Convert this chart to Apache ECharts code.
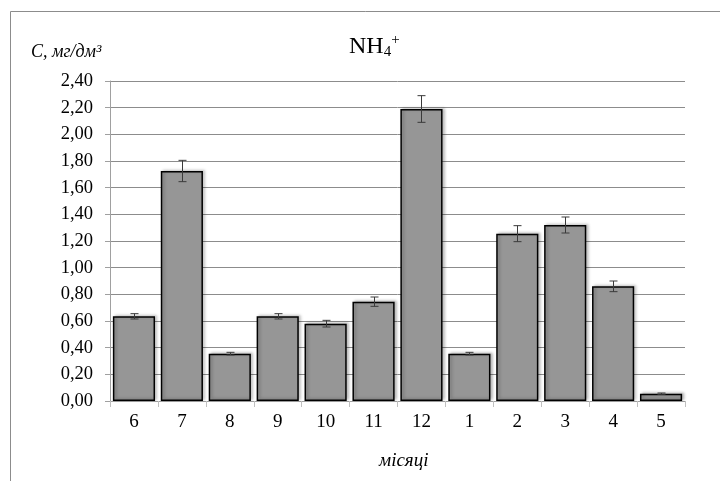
<!DOCTYPE html>
<html>
<head>
<meta charset="utf-8">
<script src="https://cdn.jsdelivr.net/npm/echarts@6/dist/echarts.min.js"></script>
<style>html,body{margin:0;padding:0;background:#fff;}#c{width:720px;height:481px;}</style>
</head>
<body>
<div id="c"></div>
<script>
var months = ['6','7','8','9','10','11','12','1','2','3','4','5'];
var values = [0.635, 1.725, 0.355, 0.635, 0.58, 0.745, 2.19, 0.355, 1.255, 1.32, 0.86, 0.055];
var errors = [0.02, 0.08, 0.01, 0.02, 0.025, 0.035, 0.10, 0.01, 0.06, 0.06, 0.04, 0.005];
var yTicks = {min: 0, max: 2.4, interval: 0.2};

var serif = '"Liberation Serif", "DejaVu Serif", serif';
var chart = echarts.init(document.getElementById('c'), null, {renderer: 'canvas'});
var errData = values.map(function (v, i) { return [i, v, errors[i]]; });

chart.setOption({
  animation: false,
  backgroundColor: '#fff',
  title: [{
    text: 'NH{sub|4}{sup|+}',
    left: 344, top: 28,
    textStyle: {
      fontFamily: serif, fontSize: 24, fontWeight: 'normal', color: '#000',
      rich: {
        sub: {fontFamily: serif, fontSize: 15, color: '#000', verticalAlign: 'bottom', padding: [12, 0, 0, 0]},
        sup: {fontFamily: serif, fontSize: 15, color: '#000', verticalAlign: 'top', padding: [0, 0, 10, 0]}
      }
    }
  }, {
    text: 'C, мг/дм³',
    left: 26, top: 38,
    textStyle: {fontFamily: serif, fontSize: 18, fontStyle: 'italic', fontWeight: 'normal', color: '#000'}
  }, {
    text: 'місяці',
    left: 374, top: 446,
    textStyle: {fontFamily: serif, fontSize: 19, fontStyle: 'italic', fontWeight: 'normal', color: '#000'}
  }],
  graphic: [{
    type: 'polyline',
    shape: {points: [[720, 11.5], [10.5, 11.5], [10.5, 481]]},
    style: {stroke: '#8c8c8c', lineWidth: 1, fill: null},
    silent: true
  }],
  grid: {left: 110, right: 35, top: 81, bottom: 80},
  xAxis: {
    type: 'category',
    data: months,
    axisLine: {show: true, lineStyle: {color: '#a0a0a0', width: 1}},
    axisTick: {show: true, alignWithLabel: false, length: 6, lineStyle: {color: '#c0c0c0'}},
    axisLabel: {fontFamily: serif, fontSize: 19, color: '#000', margin: 12}
  },
  yAxis: {
    type: 'value',
    min: yTicks.min, max: yTicks.max, interval: yTicks.interval,
    axisLine: {show: true, lineStyle: {color: '#a0a0a0', width: 1}},
    axisTick: {show: true, length: 5, lineStyle: {color: '#a0a0a0'}},
    splitLine: {show: true, lineStyle: {color: '#8c8c8c', width: 1}},
    axisLabel: {
      fontFamily: serif, fontSize: 18.5, color: '#000', margin: 17,
      formatter: function (v) { return v.toFixed(2).replace('.', ','); }
    }
  },
  series: [{
    type: 'bar',
    data: values,
    barCategoryGap: '12%',
    itemStyle: {
      color: '#969696', borderColor: '#000', borderWidth: 1.5,
      shadowColor: 'rgba(0,0,0,0.25)', shadowBlur: 3, shadowOffsetX: 2, shadowOffsetY: -1
    },
    z: 2
  }, {
    type: 'custom',
    data: errData,
    z: 5,
    renderItem: function (params, api) {
      var i = api.value(0), v = api.value(1), e = api.value(2);
      var top = api.coord([i, v + e]);
      var bot = api.coord([i, v - e]);
      var x = Math.round(top[0]) + 0.5;
      var hw = 4;
      var st = {stroke: '#3a3a3a', lineWidth: 1};
      return {
        type: 'group',
        children: [
          {type: 'line', shape: {x1: x, y1: top[1], x2: x, y2: bot[1]}, style: st},
          {type: 'line', shape: {x1: x - hw, y1: top[1], x2: x + hw, y2: top[1]}, style: st},
          {type: 'line', shape: {x1: x - hw, y1: bot[1], x2: x + hw, y2: bot[1]}, style: st}
        ]
      };
    }
  }]
});
</script>
</body>
</html>
